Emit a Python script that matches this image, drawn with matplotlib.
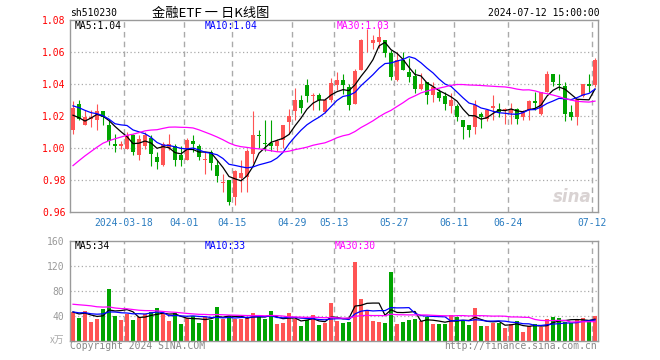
"""Daily K-line chart for sh510230 (金融ETF), price panel plus volume panel."""

import numpy as np
import pandas as pd
import matplotlib

matplotlib.use("Agg")
import matplotlib.pyplot as plt

# --- data (2024-03-05 .. 2024-07-12, 88 trading days) ---
opens = [
    1.0117, 1.0275, 1.0144, 1.0181, 1.0179, 1.0233, 1.0144, 1.0029, 1.0013, 0.9998,
    1.0081, 0.9956, 1.0013, 1.0067, 0.9946, 0.9894, 1.0000, 1.0013, 0.9956, 0.9929,
    1.0046, 1.0013, 0.9929, 0.9977, 0.9894, 0.9785, 0.9804, 0.9696, 0.9817, 0.9821,
    0.9967, 1.0085, 1.0033, 1.0033, 1.0013, 1.0050, 1.0165, 1.0233, 1.0300, 1.0394,
    1.0325, 1.0331, 1.0227, 1.0300, 1.0394, 1.0429, 1.0383, 1.0275, 1.0492, 1.0663,
    1.0658, 1.0665, 1.0679, 1.0596, 1.0425, 1.0550, 1.0477, 1.0450, 1.0373, 1.0415,
    1.0331, 1.0352, 1.0325, 1.0263, 1.0263, 1.0175, 1.0144, 1.0133, 1.0213, 1.0185,
    1.0254, 1.0248, 1.0242, 1.0223, 1.0248, 1.0196, 1.0242, 1.0296, 1.0217, 1.0352,
    1.0463, 1.0404, 1.0392, 1.0227, 1.0196, 1.0325, 1.0404, 1.0394,
]
highs = [
    1.0294, 1.0300, 1.0238, 1.0238, 1.0275, 1.0233, 1.0175, 1.0092, 1.0046, 1.0102,
    1.0092, 1.0081, 1.0102, 1.0081, 0.9977, 1.0040, 1.0092, 1.0025, 1.0013, 1.0067,
    1.0081, 1.0025, 0.9977, 0.9992, 0.9929, 0.9838, 0.9804, 0.9863, 0.9925, 0.9998,
    1.0233, 1.0117, 1.0175, 1.0179, 1.0060, 1.0144, 1.0248, 1.0379, 1.0331, 1.0431,
    1.0346, 1.0346, 1.0317, 1.0442, 1.0477, 1.0463, 1.0404, 1.0498, 1.0685, 1.0748,
    1.0706, 1.0758, 1.0679, 1.0617, 1.0602, 1.0602, 1.0567, 1.0498, 1.0471, 1.0415,
    1.0415, 1.0373, 1.0352, 1.0346, 1.0279, 1.0175, 1.0144, 1.0300, 1.0227, 1.0248,
    1.0331, 1.0283, 1.0254, 1.0283, 1.0254, 1.0242, 1.0300, 1.0352, 1.0352, 1.0483,
    1.0463, 1.0467, 1.0415, 1.0269, 1.0310, 1.0404, 1.0467, 1.0567,
]
lows = [
    1.0092, 1.0175, 1.0144, 1.0133, 1.0113, 1.0144, 1.0019, 0.9977, 0.9998, 0.9998,
    0.9956, 0.9925, 0.9998, 0.9888, 0.9873, 0.9888, 0.9988, 0.9888, 0.9888, 0.9929,
    0.9977, 0.9925, 0.9838, 0.9863, 0.9790, 0.9727, 0.9644, 0.9644, 0.9727, 0.9727,
    0.9908, 1.0004, 0.9983, 0.9983, 0.9983, 1.0004, 1.0092, 1.0175, 1.0221, 1.0290,
    1.0242, 1.0242, 1.0221, 1.0290, 1.0362, 1.0338, 1.0242, 1.0275, 1.0488, 1.0602,
    1.0623, 1.0629, 1.0571, 1.0425, 1.0421, 1.0488, 1.0415, 1.0346, 1.0363, 1.0279,
    1.0290, 1.0296, 1.0242, 1.0221, 1.0171, 1.0060, 1.0071, 1.0092, 1.0129, 1.0171,
    1.0175, 1.0196, 1.0154, 1.0150, 1.0154, 1.0175, 1.0179, 1.0238, 1.0206, 1.0352,
    1.0388, 1.0363, 1.0171, 1.0179, 1.0144, 1.0321, 1.0352, 1.0383,
]
closes = [
    1.0254, 1.0181, 1.0196, 1.0196, 1.0233, 1.0196, 1.0046, 1.0013, 1.0029, 1.0081,
    0.9977, 1.0060, 1.0081, 0.9967, 0.9915, 1.0029, 1.0025, 0.9929, 0.9929, 1.0054,
    1.0025, 0.9946, 0.9931, 0.9908, 0.9825, 0.9790, 0.9665, 0.9858, 0.9846, 0.9983,
    1.0081, 1.0080, 1.0029, 1.0013, 1.0046, 1.0144, 1.0200, 1.0300, 1.0254, 1.0325,
    1.0331, 1.0300, 1.0300, 1.0410, 1.0429, 1.0394, 1.0269, 1.0483, 1.0675, 1.0665,
    1.0679, 1.0696, 1.0596, 1.0446, 1.0550, 1.0492, 1.0446, 1.0373, 1.0400, 1.0331,
    1.0383, 1.0317, 1.0279, 1.0300, 1.0196, 1.0133, 1.0117, 1.0269, 1.0196, 1.0242,
    1.0263, 1.0227, 1.0248, 1.0248, 1.0185, 1.0233, 1.0296, 1.0283, 1.0352, 1.0467,
    1.0415, 1.0396, 1.0217, 1.0196, 1.0310, 1.0404, 1.0388, 1.0554,
]
volumes = [
    46, 36, 47, 30, 35, 51, 83, 39, 33, 43, 33, 38, 42, 46, 52, 42, 31, 44, 26, 37,
    39, 29, 38, 33, 54, 34, 39, 34, 35, 38, 44, 39, 34, 48, 26, 29, 44, 35, 24, 33,
    41, 25, 29, 61, 31, 29, 30, 126, 67, 47, 31, 30, 29, 110, 26, 30, 33, 35, 31, 38,
    27, 26, 26, 41, 38, 32, 25, 52, 23, 23, 28, 29, 21, 26, 31, 14, 23, 27, 22, 34,
    38, 37, 30, 29, 35, 36, 32, 40,
]

# closes / volumes of the 29 sessions before the window (estimated from where
# the MA lines start), needed so MA30 exists from the first candle
prev_closes = [
    0.925, 0.930, 0.938, 0.942, 0.945, 0.958, 0.965, 0.970, 0.975, 0.978,
    0.976, 0.975, 0.982, 0.985, 0.978, 0.980, 0.990, 0.998, 1.008, 1.012,
    1.030, 1.036, 1.034, 1.030, 1.032, 1.026, 1.030, 1.010, 1.012,
]
prev_volumes = [
    62, 70, 58, 80, 66, 75, 90, 60, 55, 68, 72, 58, 50, 62, 70, 55, 60, 52, 66, 61,
    50, 44, 48, 42, 46, 52, 40, 45, 47,
]

tick_index = [9, 19, 27, 37, 44, 54, 64, 73, 87]
tick_labels = ["2024-03-18", "04-01", "04-15", "04-29", "05-13",
               "05-27", "06-11", "06-24", "07-12"]
price_ticks = [0.96, 0.98, 1.00, 1.02, 1.04, 1.06, 1.08]
vol_ticks = [40, 80, 120, 160]
ma_periods = [5, 10, 30]

RED = "#ff5454"
GREEN = "#00a400"
MA_COLORS = ["black", "#0000ff", "#ff00ff"]
GRID = "#aaaaaa"
FRAME = "#9a9a9a"
MONO = "DejaVu Sans Mono"


def moving_average(prev, values, n):
    s = pd.Series(list(prev) + list(values), dtype=float)
    return s.rolling(n).mean().to_numpy()[len(prev):]


def px(x, y):
    return x / 660, 1 - y / 360


def style_axes(ax):
    for sp in ax.spines.values():
        sp.set_color(FRAME)
        sp.set_linewidth(1)
    ax.tick_params(length=0)
    for t in tick_index:
        ax.axvline(t - 0.5, color=GRID, lw=1, ls=(0, (4, 3)), zorder=0)


def main():
    plt.rcParams["font.family"] = [MONO]
    n = len(closes)
    x = np.arange(n)
    o, h, l, c = (np.array(a) for a in (opens, highs, lows, closes))
    up = c >= o
    colors = np.where(up, RED, GREEN)

    fig = plt.figure(figsize=(6.6, 3.6), dpi=100)
    ax = fig.add_axes([70 / 660, 1 - 212.3 / 360, 528 / 660, 192 / 360])
    axv = fig.add_axes([70 / 660, 1 - 340.7 / 360, 528 / 660, 100 / 360])

    # --- price panel ---
    style_axes(ax)
    for p in price_ticks[1:-1]:
        ax.axhline(p, color=GRID, lw=0.9, ls=(0, (1, 2)), zorder=0)
    ax.vlines(x, l, h, colors=colors, lw=0.8, zorder=2)
    body_low = np.minimum(o, c)
    body_h = np.maximum(np.abs(c - o), 0.0004)
    ax.bar(x, body_h, bottom=body_low, width=0.82, color=colors, lw=0, zorder=3)

    price_ma = []
    for period, col in zip(ma_periods, MA_COLORS):
        m = moving_average(prev_closes, closes, period)
        price_ma.append(m[-1])
        ax.plot(x, m, color=col, lw=0.9, zorder=4)

    ax.set_xlim(-0.5, n - 0.5)
    ax.set_ylim(0.96, 1.08)
    ax.set_yticks(price_ticks)
    ax.set_yticklabels([f"{p:.2f}" for p in price_ticks], color="red",
                       fontsize=7, family=MONO)
    ax.set_xticks([t - 0.5 for t in tick_index])
    ax.set_xticklabels(tick_labels, color="#2a7cc0", fontsize=7, family=MONO)
    ax.tick_params(axis="y", pad=3)
    ax.tick_params(axis="x", pad=4)

    ax.text(*px(75, 26), f"MA5:{price_ma[0]:.2f}", transform=fig.transFigure,
            color=MA_COLORS[0], fontsize=7, va="center")
    ax.text(*px(205, 26), f"MA10:{price_ma[1]:.2f}", transform=fig.transFigure,
            color=MA_COLORS[1], fontsize=7, va="center")
    ax.text(*px(337, 26), f"MA30:{price_ma[2]:.2f}", transform=fig.transFigure,
            color=MA_COLORS[2], fontsize=7, va="center")

    # sina watermark
    fig.text(*px(572, 197), "sina", color="#d0c8c8", fontsize=12,
             style="italic", weight="bold", family="DejaVu Sans",
             ha="center", va="center", alpha=0.8)

    # --- volume panel ---
    style_axes(axv)
    for v in vol_ticks[:-1]:
        axv.axhline(v, color=GRID, lw=0.9, ls=(0, (1, 2)), zorder=0)
    axv.bar(x, volumes, width=0.82, color=colors, lw=0, zorder=2)
    vol_ma = []
    for period, col in zip(ma_periods, MA_COLORS):
        m = moving_average(prev_volumes, volumes, period)
        vol_ma.append(m[-1])
        axv.plot(x, m, color=col, lw=0.9, zorder=3)
    axv.set_xlim(-0.5, n - 0.5)
    axv.set_ylim(0, 160)
    axv.set_yticks(vol_ticks)
    axv.set_yticklabels([str(v) for v in vol_ticks], color="#999999",
                        fontsize=7, family=MONO)
    axv.tick_params(axis="y", pad=4)
    axv.set_xticks([t - 0.5 for t in tick_index])
    axv.set_xticklabels([])

    fig.text(*px(75, 246), f"MA5:{vol_ma[0]:.0f}", color=MA_COLORS[0],
             fontsize=7, va="center")
    fig.text(*px(205, 246), f"MA10:{vol_ma[1]:.0f}", color=MA_COLORS[1],
             fontsize=7, va="center")
    fig.text(*px(335, 246), f"MA30:{vol_ma[2]:.0f}", color=MA_COLORS[2],
             fontsize=7, va="center")
    fig.text(*px(64, 340), "x万", color="#aaaaaa", fontsize=7, ha="right",
             va="center", style="italic",
             family=["Noto Sans CJK SC", "DejaVu Sans"])

    # --- header / footer ---
    fig.text(*px(70, 13), "sh510230", fontsize=7, va="center")
    fig.text(*px(211, 13), "金融ETF 一 日K线图", fontsize=9.5, ha="center",
             va="center", family=["Noto Sans CJK SC", "DejaVu Sans"])
    fig.text(*px(600, 13), "2024-07-12 15:00:00", fontsize=7, ha="right",
             va="center")
    fig.text(*px(70, 346), "Copyright 2024 SINA.COM", color="#888888",
             fontsize=7, va="center")
    fig.text(*px(597, 346), "http://finance.sina.com.cn", color="#888888",
             fontsize=7, ha="right", va="center")

    fig.savefig("out.png", dpi=100)
    plt.close(fig)


if __name__ == "__main__":
    main()
